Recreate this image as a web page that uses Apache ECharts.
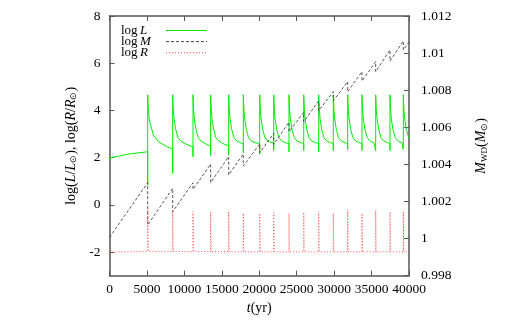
<!DOCTYPE html>
<html>
<head>
<meta charset="utf-8">
<script src="https://cdn.jsdelivr.net/npm/echarts@6/dist/echarts.min.js"></script>
<style>
  html, body { margin: 0; padding: 0; background: #fff; }
  #chart { width: 518px; height: 322px; }
</style>
</head>
<body>
<div id="chart"></div>
<script>
// flash times (yr)
const flashTimes = [5100, 8440, 11150, 13510, 15920, 17870, 20060, 21930, 23970,
  25940, 27940, 29890, 31810, 33720, 35550, 37460, 39240]

// log L (left axis)
const lumData = [
  [0, 1.9], [60, 2.0], [450, 2.02], [1300, 2.07], [2700, 2.16], [5100, 2.25],
  [5100, 0.84], [5100, 4.66], [5180, 4.05], [5320, 3.6], [5420, 3.46], [5860, 2.96], [6520, 2.68], [7640, 2.47], [8440, 2.37],
  [8440, 1.34], [8440, 4.66], [8520, 4.05], [8640, 3.6], [8840, 3.2], [9140, 2.85], [9540, 2.7], [10040, 2.6], [11150, 2.45],
  [11150, 2.04], [11150, 4.66], [11230, 4.05], [11350, 3.6], [11550, 3.2], [11850, 2.85], [12250, 2.7], [12750, 2.6], [13510, 2.48],
  [13510, 2.08], [13510, 4.66], [13590, 4.05], [13710, 3.6], [13910, 3.2], [14210, 2.85], [14610, 2.7], [15110, 2.6], [15920, 2.5],
  [15920, 2.11], [15920, 4.66], [16000, 4.05], [16120, 3.6], [16320, 3.2], [16620, 2.85], [17020, 2.7], [17870, 2.58],
  [17870, 2.21], [17870, 4.66], [17950, 4.05], [18070, 3.6], [18270, 3.2], [18570, 2.85], [18970, 2.7], [19470, 2.63], [20060, 2.6],
  [20060, 2.15], [20060, 4.66], [20140, 4.05], [20260, 3.6], [20460, 3.2], [20760, 2.85], [21160, 2.7], [21930, 2.6],
  [21930, 2.3], [21930, 4.66], [22010, 4.05], [22130, 3.6], [22330, 3.2], [22630, 2.85], [23030, 2.7], [23530, 2.63], [23970, 2.6],
  [23970, 2.25], [23970, 4.66], [24050, 4.05], [24170, 3.6], [24370, 3.2], [24670, 2.85], [25070, 2.7], [25570, 2.63], [25940, 2.6],
  [25940, 2.3], [25940, 4.66], [26020, 4.05], [26140, 3.6], [26340, 3.2], [26640, 2.85], [27040, 2.7], [27540, 2.63], [27940, 2.6],
  [27940, 2.25], [27940, 4.66], [28020, 4.05], [28140, 3.6], [28340, 3.2], [28640, 2.85], [29040, 2.7], [29540, 2.63], [29890, 2.6],
  [29890, 2.3], [29890, 4.66], [29970, 4.05], [30090, 3.6], [30290, 3.2], [30590, 2.85], [30990, 2.7], [31490, 2.63], [31810, 2.6],
  [31810, 2.35], [31810, 4.66], [31890, 4.05], [32010, 3.6], [32210, 3.2], [32510, 2.85], [32910, 2.7], [33410, 2.63], [33720, 2.6],
  [33720, 2.3], [33720, 4.66], [33800, 4.05], [33920, 3.6], [34120, 3.2], [34420, 2.85], [34820, 2.7], [35320, 2.63], [35550, 2.6],
  [35550, 2.3], [35550, 4.66], [35630, 4.05], [35750, 3.6], [35950, 3.2], [36250, 2.85], [36650, 2.7], [37150, 2.63], [37460, 2.6],
  [37460, 2.3], [37460, 4.66], [37540, 4.05], [37660, 3.6], [37860, 3.2], [38160, 2.85], [38560, 2.7], [39060, 2.63], [39240, 2.6],
  [39240, 2.35], [39240, 4.66], [39320, 4.05], [39440, 3.6], [39640, 3.2], [40000, 2.83]
]

// M_WD (right axis): value just before and just after each flash
const massData = [
  [0, 1.00007],
  [5100, 1.00301], [5100, 1.00073], [8440, 1.00271], [8440, 1.00145],
  [11150, 1.00301], [11150, 1.00265], [13510, 1.00402], [13510, 1.00302],
  [15920, 1.00442], [15920, 1.00343], [17870, 1.00456], [17870, 1.00391],
  [20060, 1.0051], [20060, 1.00463], [21930, 1.00568], [21930, 1.00508],
  [23970, 1.00627], [23970, 1.00576], [25940, 1.00681], [25940, 1.0063],
  [27940, 1.00743], [27940, 1.0069], [29890, 1.00792], [29890, 1.00743],
  [31810, 1.00846], [31810, 1.00792], [33720, 1.009], [33720, 1.00849],
  [35550, 1.00954], [35550, 1.009], [37460, 1.01017], [37460, 1.00957],
  [39240, 1.01065], [39240, 1.01017], [40000, 1.0106]
]

// log R (left axis)
const radData = [
  [0, -2.0], [5100, -1.97], [5100, -0.14], [5160, -1.97],
  [8440, -1.97], [8440, -0.29], [8500, -1.97],
  [11150, -1.98], [11150, -0.29], [11210, -1.98],
  [13510, -1.98], [13510, -0.29], [13570, -1.98],
  [15920, -1.98], [15920, -0.29], [15980, -1.98],
  [17870, -1.99], [17870, -0.36], [17930, -1.99],
  [20060, -1.99], [20060, -0.36], [20120, -1.99],
  [21930, -1.99], [21930, -0.33], [21990, -1.99],
  [23970, -1.99], [23970, -0.36], [24030, -1.99],
  [25940, -1.99], [25940, -0.32], [26000, -1.99],
  [27940, -1.99], [27940, -0.29], [28000, -1.99],
  [29890, -1.99], [29890, -0.36], [29950, -1.99],
  [31810, -1.99], [31810, -0.22], [31870, -1.99],
  [33720, -1.99], [33720, -0.36], [33780, -1.99],
  [35550, -1.99], [35550, -0.22], [35610, -1.99],
  [37460, -1.99], [37460, -0.29], [37520, -1.99],
  [39240, -1.99], [39240, -0.29], [39300, -1.99],
  [40000, -1.99]
]

const leftTicks = [-2, 0, 2, 4, 6, 8]

const font = 'Liberation Serif'
const axisColor = '#555'
const rich = {
  n: { fontFamily: font, fontSize: 14, color: '#000' },
  i: { fontFamily: font, fontSize: 14, color: '#000', fontStyle: 'italic' },
  s: { fontFamily: font, fontSize: 9, color: '#000', verticalAlign: 'bottom', padding: [6, 0, 0, 0] }
}

const chart = echarts.init(document.getElementById('chart'))

const axisLine = { show: true, onZero: false, lineStyle: { color: axisColor, width: 1.5 } }
const axisTick = { show: true, inside: true, length: 5, lineStyle: { color: axisColor, width: 1 } }

let option = {
  animation: false,
  backgroundColor: '#fff',
  grid: { left: 109.5, right: 109, top: 16, bottom: 46.3 },
  legend: {
    orient: 'vertical',
    left: 121,
    top: 24,
    padding: 0,
    align: 'right',
    itemWidth: 41,
    itemHeight: 9,
    itemGap: -1.9,
    itemStyle: { opacity: 0 },
    lineStyle: { width: 1 },
    data: ['logL', 'logM', 'logR'],
    formatter: function (name) {
      return '{n|log}{i|' + name.slice(3) + '}'
    },
    textStyle: {
      rich: {
        n: { fontFamily: font, fontSize: 13, color: '#000', lineHeight: 11, width: 17, align: 'left' },
        i: { fontFamily: font, fontSize: 13, color: '#000', fontStyle: 'italic', lineHeight: 11, width: 21, align: 'left', padding: [0, 0, 0, 2] }
      }
    }
  },
  xAxis: [{
    type: 'value',
    position: 'bottom',
    min: 0,
    max: 40000,
    interval: 5000,
    axisLine: axisLine,
    axisTick: axisTick,
    splitLine: { show: false },
    axisLabel: { color: '#000', fontFamily: font, fontSize: 13.5, margin: 7, formatter: v => String(v) },
    name: '{i|t}{n|(yr)}',
    nameLocation: 'middle',
    nameGap: 24,
    nameTextStyle: { rich: rich }
  }, {
    type: 'value',
    position: 'top',
    min: 0,
    max: 40000,
    interval: 5000,
    axisLine: axisLine,
    axisTick: axisTick,
    splitLine: { show: false },
    axisLabel: { show: false }
  }],
  yAxis: [{
    type: 'value',
    position: 'left',
    min: -3,
    max: 8,
    axisLine: axisLine,
    axisTick: Object.assign({ customValues: leftTicks }, axisTick),
    splitLine: { show: false },
    axisLabel: { customValues: leftTicks, color: '#000', fontFamily: font, fontSize: 13.5, margin: 9 },
    name: '{n|log(}{i|L}{n|/}{i|L}{s|⊙}{n|), log(}{i|R}{n|/}{i|R}{s|⊙}{n|)}',
    nameLocation: 'middle',
    nameGap: 30,
    nameTextStyle: { rich: rich }
  }, {
    type: 'value',
    position: 'right',
    min: 0.998,
    max: 1.012,
    interval: 0.002,
    axisLine: axisLine,
    axisTick: axisTick,
    splitLine: { show: false },
    axisLabel: {
      color: '#000', fontFamily: font, fontSize: 13.5, margin: 12,
      formatter: v => String(parseFloat(v.toFixed(3)))
    },
    name: '{i|M}{s|WD}{n|(}{i|M}{s|⊙}{n|)}',
    nameLocation: 'middle',
    nameGap: 65,
    nameTextStyle: { rich: rich }
  }],
  series: [{
    name: 'logL',
    type: 'line',
    xAxisIndex: 0,
    yAxisIndex: 0,
    symbol: 'none',
    data: lumData,
    itemStyle: { color: '#00ee00' },
    lineStyle: { color: '#00ee00', width: 1 }
  }, {
    name: 'logM',
    type: 'line',
    xAxisIndex: 0,
    yAxisIndex: 1,
    symbol: 'none',
    data: massData,
    itemStyle: { color: '#444' },
    lineStyle: { color: '#444', width: 0.9, type: [3, 2] }
  }, {
    name: 'logR',
    type: 'line',
    xAxisIndex: 0,
    yAxisIndex: 0,
    symbol: 'none',
    data: radData,
    itemStyle: { color: '#ff5050' },
    lineStyle: { color: '#ff5050', width: 1, type: [1, 2] }
  }]
}

chart.setOption(option)
</script>
</body>
</html>
